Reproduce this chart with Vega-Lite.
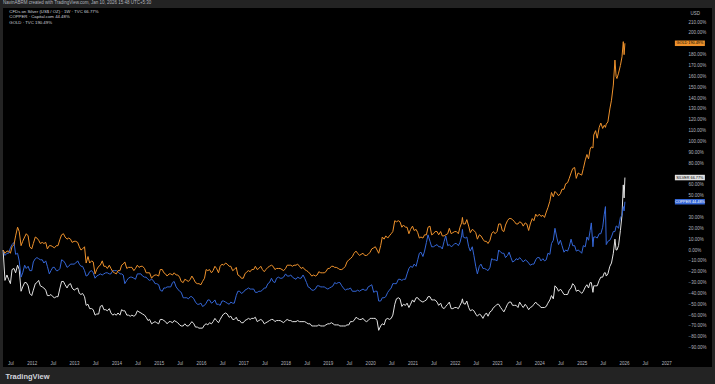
{
  "$schema": "https://vega.github.io/schema/vega-lite/v6.json",
  "width": 709,
  "height": 359,
  "autosize": {"type": "none"},
  "padding": {"left": 3, "right": 3, "top": 8, "bottom": 17},
  "background": "#232323",
  "config": {"view": {"stroke": null, "fill": "#000000"}, "font": "Liberation Sans"},
  "title": {"text": "NavinABRM created with TradingView.com, Jan 10, 2026 15:48 UTC+5:30", "anchor": "start", "frame": "group", "fontSize": 4.5, "fontWeight": "normal", "color": "#b2b5be", "baseline": "bottom", "offset": -1.5},
  "datasets": {
    "prices": [
      {"d":"2011-04-29","s":0,"c":0,"g":0},
      {"d":"2011-05-15","s":-28,"c":-5,"g":-3},
      {"d":"2011-06-01","s":-23,"c":-3,"g":-1},
      {"d":"2011-06-15","s":-27,"c":-3,"g":-1},
      {"d":"2011-07-01","s":-31,"c":2,"g":-3},
      {"d":"2011-07-15","s":-18,"c":5,"g":3},
      {"d":"2011-08-01","s":-17,"c":7,"g":5},
      {"d":"2011-08-15","s":-21,"c":-4,"g":13},
      {"d":"2011-09-01","s":-14,"c":-3,"g":21},
      {"d":"2011-09-15","s":-18,"c":-10,"g":17},
      {"d":"2011-10-01","s":-38,"c":-25,"g":4},
      {"d":"2011-10-15","s":-34,"c":-21,"g":8},
      {"d":"2011-11-01","s":-30,"c":-14,"g":12},
      {"d":"2011-11-15","s":-30,"c":-17,"g":15},
      {"d":"2011-12-01","s":-33,"c":-15,"g":13},
      {"d":"2011-12-15","s":-40,"c":-19,"g":3},
      {"d":"2012-01-01","s":-42,"c":-19,"g":1},
      {"d":"2012-01-15","s":-37,"c":-11,"g":6},
      {"d":"2012-02-01","s":-31,"c":-8,"g":12},
      {"d":"2012-02-15","s":-30,"c":-7,"g":11},
      {"d":"2012-03-01","s":-28,"c":-8,"g":9},
      {"d":"2012-03-15","s":-33,"c":-9,"g":6},
      {"d":"2012-04-01","s":-34,"c":-9,"g":7},
      {"d":"2012-04-15","s":-35,"c":-12,"g":6},
      {"d":"2012-05-01","s":-37,"c":-10,"g":7},
      {"d":"2012-05-15","s":-42,"c":-15,"g":1},
      {"d":"2012-06-01","s":-42,"c":-22,"g":4},
      {"d":"2012-06-15","s":-41,"c":-19,"g":4},
      {"d":"2012-07-01","s":-43,"c":-16,"g":3},
      {"d":"2012-07-15","s":-44,"c":-16,"g":2},
      {"d":"2012-08-01","s":-43,"c":-19,"g":4},
      {"d":"2012-08-15","s":-43,"c":-19,"g":4},
      {"d":"2012-09-01","s":-35,"c":-17,"g":10},
      {"d":"2012-09-15","s":-29,"c":-9,"g":14},
      {"d":"2012-10-01","s":-29,"c":-10,"g":15},
      {"d":"2012-10-15","s":-32,"c":-12,"g":12},
      {"d":"2012-11-01","s":-35,"c":-16,"g":10},
      {"d":"2012-11-15","s":-32,"c":-15,"g":11},
      {"d":"2012-12-01","s":-31,"c":-13,"g":10},
      {"d":"2012-12-15","s":-35,"c":-13,"g":7},
      {"d":"2013-01-01","s":-37,"c":-13,"g":8},
      {"d":"2013-01-15","s":-36,"c":-12,"g":8},
      {"d":"2013-02-01","s":-35,"c":-10,"g":7},
      {"d":"2013-02-15","s":-40,"c":-13,"g":3},
      {"d":"2013-03-01","s":-41,"c":-15,"g":0},
      {"d":"2013-03-15","s":-40,"c":-15,"g":1},
      {"d":"2013-04-01","s":-43,"c":-19,"g":3},
      {"d":"2013-04-15","s":-51,"c":-24,"g":-12},
      {"d":"2013-05-01","s":-50,"c":-23,"g":-6},
      {"d":"2013-05-15","s":-54,"c":-20,"g":-12},
      {"d":"2013-06-01","s":-54,"c":-19,"g":-10},
      {"d":"2013-06-15","s":-55,"c":-21,"g":-11},
      {"d":"2013-07-01","s":-60,"c":-26,"g":-22},
      {"d":"2013-07-15","s":-59,"c":-24,"g":-18},
      {"d":"2013-08-01","s":-59,"c":-23,"g":-15},
      {"d":"2013-08-15","s":-52,"c":-22,"g":-14},
      {"d":"2013-09-01","s":-51,"c":-23,"g":-10},
      {"d":"2013-09-15","s":-55,"c":-22,"g":-15},
      {"d":"2013-10-01","s":-55,"c":-21,"g":-15},
      {"d":"2013-10-15","s":-56,"c":-21,"g":-17},
      {"d":"2013-11-01","s":-54,"c":-22,"g":-14},
      {"d":"2013-11-15","s":-58,"c":-22,"g":-17},
      {"d":"2013-12-01","s":-60,"c":-19,"g":-20},
      {"d":"2013-12-15","s":-59,"c":-19,"g":-21},
      {"d":"2014-01-01","s":-60,"c":-19,"g":-22},
      {"d":"2014-01-15","s":-58,"c":-20,"g":-19},
      {"d":"2014-02-01","s":-60,"c":-22,"g":-19},
      {"d":"2014-02-15","s":-55,"c":-22,"g":-14},
      {"d":"2014-03-01","s":-56,"c":-23,"g":-13},
      {"d":"2014-03-15","s":-56,"c":-31,"g":-11},
      {"d":"2014-04-01","s":-60,"c":-28,"g":-17},
      {"d":"2014-04-15","s":-60,"c":-26,"g":-16},
      {"d":"2014-05-01","s":-61,"c":-25,"g":-16},
      {"d":"2014-05-15","s":-60,"c":-25,"g":-16},
      {"d":"2014-06-01","s":-61,"c":-26,"g":-19},
      {"d":"2014-06-15","s":-60,"c":-27,"g":-17},
      {"d":"2014-07-01","s":-56,"c":-22,"g":-14},
      {"d":"2014-07-15","s":-57,"c":-22,"g":-16},
      {"d":"2014-08-01","s":-58,"c":-22,"g":-15},
      {"d":"2014-08-15","s":-59,"c":-24,"g":-15},
      {"d":"2014-09-01","s":-60,"c":-25,"g":-17},
      {"d":"2014-09-15","s":-62,"c":-25,"g":-21},
      {"d":"2014-10-01","s":-65,"c":-27,"g":-21},
      {"d":"2014-10-15","s":-64,"c":-28,"g":-21},
      {"d":"2014-11-01","s":-68,"c":-27,"g":-26},
      {"d":"2014-11-15","s":-67,"c":-28,"g":-24},
      {"d":"2014-12-01","s":-66,"c":-31,"g":-23},
      {"d":"2014-12-15","s":-67,"c":-31,"g":-23},
      {"d":"2015-01-01","s":-68,"c":-32,"g":-24},
      {"d":"2015-01-15","s":-64,"c":-37,"g":-18},
      {"d":"2015-02-01","s":-64,"c":-38,"g":-18},
      {"d":"2015-02-15","s":-65,"c":-35,"g":-21},
      {"d":"2015-03-01","s":-66,"c":-35,"g":-22},
      {"d":"2015-03-15","s":-68,"c":-34,"g":-24},
      {"d":"2015-04-01","s":-66,"c":-34,"g":-22},
      {"d":"2015-04-15","s":-66,"c":-34,"g":-22},
      {"d":"2015-05-01","s":-67,"c":-30,"g":-23},
      {"d":"2015-05-15","s":-65,"c":-29,"g":-21},
      {"d":"2015-06-01","s":-66,"c":-34,"g":-23},
      {"d":"2015-06-15","s":-67,"c":-36,"g":-23},
      {"d":"2015-07-01","s":-69,"c":-38,"g":-25},
      {"d":"2015-07-15","s":-70,"c":-39,"g":-29},
      {"d":"2015-08-01","s":-70,"c":-44,"g":-30},
      {"d":"2015-08-15","s":-68,"c":-44,"g":-27},
      {"d":"2015-09-01","s":-70,"c":-44,"g":-28},
      {"d":"2015-09-15","s":-70,"c":-45,"g":-29},
      {"d":"2015-10-01","s":-68,"c":-43,"g":-27},
      {"d":"2015-10-15","s":-66,"c":-43,"g":-24},
      {"d":"2015-11-01","s":-68,"c":-45,"g":-27},
      {"d":"2015-11-15","s":-71,"c":-48,"g":-30},
      {"d":"2015-12-01","s":-71,"c":-50,"g":-31},
      {"d":"2015-12-15","s":-72,"c":-50,"g":-31},
      {"d":"2016-01-01","s":-72,"c":-49,"g":-32},
      {"d":"2016-01-15","s":-72,"c":-52,"g":-29},
      {"d":"2016-02-01","s":-69,"c":-51,"g":-26},
      {"d":"2016-02-15","s":-68,"c":-49,"g":-18},
      {"d":"2016-03-01","s":-69,"c":-46,"g":-19},
      {"d":"2016-03-15","s":-67,"c":-46,"g":-18},
      {"d":"2016-04-01","s":-68,"c":-49,"g":-21},
      {"d":"2016-04-15","s":-66,"c":-48,"g":-19},
      {"d":"2016-05-01","s":-63,"c":-46,"g":-15},
      {"d":"2016-05-15","s":-65,"c":-50,"g":-17},
      {"d":"2016-06-01","s":-67,"c":-50,"g":-21},
      {"d":"2016-06-15","s":-64,"c":-51,"g":-15},
      {"d":"2016-07-01","s":-61,"c":-47,"g":-13},
      {"d":"2016-07-15","s":-59,"c":-47,"g":-14},
      {"d":"2016-08-01","s":-58,"c":-48,"g":-12},
      {"d":"2016-08-15","s":-59,"c":-49,"g":-13},
      {"d":"2016-09-01","s":-62,"c":-50,"g":-15},
      {"d":"2016-09-15","s":-61,"c":-48,"g":-15},
      {"d":"2016-10-01","s":-64,"c":-49,"g":-19},
      {"d":"2016-10-15","s":-64,"c":-49,"g":-18},
      {"d":"2016-11-01","s":-62,"c":-42,"g":-16},
      {"d":"2016-11-15","s":-65,"c":-38,"g":-23},
      {"d":"2016-12-01","s":-65,"c":-38,"g":-24},
      {"d":"2016-12-15","s":-67,"c":-40,"g":-26},
      {"d":"2017-01-01","s":-67,"c":-39,"g":-26},
      {"d":"2017-01-15","s":-65,"c":-37,"g":-22},
      {"d":"2017-02-01","s":-64,"c":-36,"g":-20},
      {"d":"2017-02-15","s":-63,"c":-35,"g":-19},
      {"d":"2017-03-01","s":-64,"c":-36,"g":-20},
      {"d":"2017-03-15","s":-63,"c":-36,"g":-18},
      {"d":"2017-04-01","s":-63,"c":-36,"g":-18},
      {"d":"2017-04-15","s":-62,"c":-39,"g":-15},
      {"d":"2017-05-01","s":-66,"c":-39,"g":-18},
      {"d":"2017-05-15","s":-65,"c":-38,"g":-17},
      {"d":"2017-06-01","s":-64,"c":-38,"g":-15},
      {"d":"2017-06-15","s":-65,"c":-37,"g":-18},
      {"d":"2017-07-01","s":-68,"c":-35,"g":-20},
      {"d":"2017-07-15","s":-67,"c":-35,"g":-18},
      {"d":"2017-08-01","s":-66,"c":-31,"g":-16},
      {"d":"2017-08-15","s":-65,"c":-30,"g":-15},
      {"d":"2017-09-01","s":-64,"c":-26,"g":-14},
      {"d":"2017-09-15","s":-64,"c":-29,"g":-15},
      {"d":"2017-10-01","s":-66,"c":-30,"g":-18},
      {"d":"2017-10-15","s":-65,"c":-26,"g":-17},
      {"d":"2017-11-01","s":-65,"c":-25,"g":-17},
      {"d":"2017-11-15","s":-65,"c":-26,"g":-17},
      {"d":"2017-12-01","s":-66,"c":-26,"g":-18},
      {"d":"2017-12-15","s":-67,"c":-25,"g":-19},
      {"d":"2018-01-01","s":-65,"c":-22,"g":-17},
      {"d":"2018-01-15","s":-64,"c":-24,"g":-14},
      {"d":"2018-02-01","s":-65,"c":-24,"g":-14},
      {"d":"2018-02-15","s":-65,"c":-23,"g":-14},
      {"d":"2018-03-01","s":-66,"c":-25,"g":-15},
      {"d":"2018-03-15","s":-66,"c":-26,"g":-14},
      {"d":"2018-04-01","s":-66,"c":-27,"g":-14},
      {"d":"2018-04-15","s":-65,"c":-25,"g":-13},
      {"d":"2018-05-01","s":-66,"c":-26,"g":-15},
      {"d":"2018-05-15","s":-66,"c":-26,"g":-17},
      {"d":"2018-06-01","s":-66,"c":-23,"g":-16},
      {"d":"2018-06-15","s":-66,"c":-26,"g":-18},
      {"d":"2018-07-01","s":-67,"c":-30,"g":-19},
      {"d":"2018-07-15","s":-68,"c":-34,"g":-20},
      {"d":"2018-08-01","s":-68,"c":-35,"g":-22},
      {"d":"2018-08-15","s":-70,"c":-37,"g":-24},
      {"d":"2018-09-01","s":-70,"c":-37,"g":-23},
      {"d":"2018-09-15","s":-70,"c":-36,"g":-24},
      {"d":"2018-10-01","s":-70,"c":-33,"g":-23},
      {"d":"2018-10-15","s":-69,"c":-33,"g":-20},
      {"d":"2018-11-01","s":-70,"c":-34,"g":-21},
      {"d":"2018-11-15","s":-70,"c":-34,"g":-21},
      {"d":"2018-12-01","s":-70,"c":-34,"g":-21},
      {"d":"2018-12-15","s":-69,"c":-35,"g":-20},
      {"d":"2019-01-01","s":-68,"c":-36,"g":-17},
      {"d":"2019-01-15","s":-68,"c":-35,"g":-17},
      {"d":"2019-02-01","s":-67,"c":-34,"g":-15},
      {"d":"2019-02-15","s":-68,"c":-33,"g":-15},
      {"d":"2019-03-01","s":-69,"c":-30,"g":-16},
      {"d":"2019-03-15","s":-69,"c":-31,"g":-16},
      {"d":"2019-04-01","s":-69,"c":-30,"g":-17},
      {"d":"2019-04-15","s":-70,"c":-30,"g":-18},
      {"d":"2019-05-01","s":-70,"c":-33,"g":-18},
      {"d":"2019-05-15","s":-70,"c":-35,"g":-17},
      {"d":"2019-06-01","s":-70,"c":-37,"g":-15},
      {"d":"2019-06-15","s":-69,"c":-36,"g":-11},
      {"d":"2019-07-01","s":-69,"c":-36,"g":-9},
      {"d":"2019-07-15","s":-66,"c":-35,"g":-8},
      {"d":"2019-08-01","s":-66,"c":-38,"g":-6},
      {"d":"2019-08-15","s":-65,"c":-38,"g":-3},
      {"d":"2019-09-01","s":-62,"c":-38,"g":-1},
      {"d":"2019-09-15","s":-63,"c":-37,"g":-3},
      {"d":"2019-10-01","s":-64,"c":-38,"g":-5},
      {"d":"2019-10-15","s":-64,"c":-37,"g":-4},
      {"d":"2019-11-01","s":-63,"c":-36,"g":-3},
      {"d":"2019-11-15","s":-65,"c":-37,"g":-5},
      {"d":"2019-12-01","s":-66,"c":-37,"g":-5},
      {"d":"2019-12-15","s":-65,"c":-34,"g":-4},
      {"d":"2020-01-01","s":-63,"c":-33,"g":-2},
      {"d":"2020-01-15","s":-63,"c":-32,"g":1},
      {"d":"2020-02-01","s":-63,"c":-39,"g":2},
      {"d":"2020-02-15","s":-63,"c":-38,"g":3},
      {"d":"2020-03-01","s":-65,"c":-38,"g":0},
      {"d":"2020-03-15","s":-74,"c":-47,"g":-3},
      {"d":"2020-04-01","s":-70,"c":-47,"g":4},
      {"d":"2020-04-15","s":-68,"c":-44,"g":12},
      {"d":"2020-05-01","s":-69,"c":-44,"g":10},
      {"d":"2020-05-15","s":-64,"c":-43,"g":13},
      {"d":"2020-06-01","s":-63,"c":-39,"g":11},
      {"d":"2020-06-15","s":-64,"c":-37,"g":13},
      {"d":"2020-07-01","s":-63,"c":-35,"g":15},
      {"d":"2020-07-15","s":-60,"c":-31,"g":17},
      {"d":"2020-08-01","s":-50,"c":-31,"g":27},
      {"d":"2020-08-15","s":-45,"c":-31,"g":26},
      {"d":"2020-09-01","s":-44,"c":-27,"g":27},
      {"d":"2020-09-15","s":-45,"c":-27,"g":26},
      {"d":"2020-10-01","s":-52,"c":-28,"g":21},
      {"d":"2020-10-15","s":-50,"c":-27,"g":23},
      {"d":"2020-11-01","s":-51,"c":-27,"g":21},
      {"d":"2020-11-15","s":-49,"c":-22,"g":21},
      {"d":"2020-12-01","s":-53,"c":-17,"g":15},
      {"d":"2020-12-15","s":-50,"c":-15,"g":19},
      {"d":"2021-01-01","s":-46,"c":-16,"g":22},
      {"d":"2021-01-15","s":-48,"c":-13,"g":18},
      {"d":"2021-02-01","s":-44,"c":-15,"g":19},
      {"d":"2021-02-15","s":-44,"c":-9,"g":16},
      {"d":"2021-03-01","s":-46,"c":-3,"g":11},
      {"d":"2021-03-15","s":-47,"c":-2,"g":12},
      {"d":"2021-04-01","s":-48,"c":-6,"g":11},
      {"d":"2021-04-15","s":-47,"c":-1,"g":14},
      {"d":"2021-05-01","s":-46,"c":7,"g":14},
      {"d":"2021-05-15","s":-43,"c":14,"g":21},
      {"d":"2021-06-01","s":-43,"c":8,"g":22},
      {"d":"2021-06-15","s":-46,"c":3,"g":14},
      {"d":"2021-07-01","s":-46,"c":3,"g":15},
      {"d":"2021-07-15","s":-46,"c":4,"g":17},
      {"d":"2021-08-01","s":-48,"c":5,"g":17},
      {"d":"2021-08-15","s":-51,"c":3,"g":14},
      {"d":"2021-09-01","s":-49,"c":3,"g":17},
      {"d":"2021-09-15","s":-53,"c":1,"g":13},
      {"d":"2021-10-01","s":-54,"c":8,"g":13},
      {"d":"2021-10-15","s":-52,"c":13,"g":14},
      {"d":"2021-11-01","s":-50,"c":4,"g":15},
      {"d":"2021-11-15","s":-48,"c":5,"g":20},
      {"d":"2021-12-01","s":-54,"c":3,"g":15},
      {"d":"2021-12-15","s":-54,"c":4,"g":16},
      {"d":"2022-01-01","s":-53,"c":6,"g":17},
      {"d":"2022-01-15","s":-53,"c":6,"g":17},
      {"d":"2022-02-01","s":-54,"c":4,"g":15},
      {"d":"2022-02-15","s":-51,"c":7,"g":21},
      {"d":"2022-03-01","s":-48,"c":13,"g":25},
      {"d":"2022-03-08","s":-45,"c":19,"g":30},
      {"d":"2022-03-15","s":-49,"c":12,"g":24},
      {"d":"2022-04-01","s":-50,"c":11,"g":24},
      {"d":"2022-04-15","s":-47,"c":12,"g":28},
      {"d":"2022-05-01","s":-53,"c":3,"g":22},
      {"d":"2022-05-15","s":-56,"c":-1,"g":16},
      {"d":"2022-06-01","s":-55,"c":3,"g":19},
      {"d":"2022-06-15","s":-56,"c":-5,"g":18},
      {"d":"2022-07-01","s":-59,"c":-15,"g":16},
      {"d":"2022-07-15","s":-61,"c":-22,"g":10},
      {"d":"2022-08-01","s":-59,"c":-15,"g":14},
      {"d":"2022-08-15","s":-60,"c":-13,"g":13},
      {"d":"2022-09-01","s":-63,"c":-17,"g":10},
      {"d":"2022-09-15","s":-60,"c":-17,"g":8},
      {"d":"2022-10-01","s":-58,"c":-18,"g":8},
      {"d":"2022-10-15","s":-61,"c":-19,"g":6},
      {"d":"2022-11-01","s":-57,"c":-16,"g":9},
      {"d":"2022-11-15","s":-56,"c":-8,"g":15},
      {"d":"2022-12-01","s":-53,"c":-9,"g":17},
      {"d":"2022-12-15","s":-52,"c":-9,"g":15},
      {"d":"2023-01-01","s":-50,"c":-10,"g":17},
      {"d":"2023-01-15","s":-50,"c":0,"g":24},
      {"d":"2023-02-01","s":-53,"c":-2,"g":24},
      {"d":"2023-02-15","s":-55,"c":-3,"g":18},
      {"d":"2023-03-01","s":-57,"c":-3,"g":17},
      {"d":"2023-03-15","s":-54,"c":-7,"g":23},
      {"d":"2023-04-01","s":-50,"c":-5,"g":27},
      {"d":"2023-04-15","s":-48,"c":-2,"g":29},
      {"d":"2023-05-01","s":-48,"c":-7,"g":29},
      {"d":"2023-05-15","s":-51,"c":-11,"g":28},
      {"d":"2023-06-01","s":-51,"c":-10,"g":26},
      {"d":"2023-06-15","s":-51,"c":-8,"g":24},
      {"d":"2023-07-01","s":-53,"c":-9,"g":24},
      {"d":"2023-07-15","s":-48,"c":-7,"g":26},
      {"d":"2023-08-01","s":-51,"c":-9,"g":25},
      {"d":"2023-08-15","s":-53,"c":-11,"g":22},
      {"d":"2023-09-01","s":-50,"c":-9,"g":25},
      {"d":"2023-09-15","s":-52,"c":-10,"g":24},
      {"d":"2023-10-01","s":-55,"c":-12,"g":18},
      {"d":"2023-10-15","s":-53,"c":-14,"g":24},
      {"d":"2023-11-01","s":-52,"c":-13,"g":29},
      {"d":"2023-11-15","s":-50,"c":-13,"g":27},
      {"d":"2023-12-01","s":-48,"c":-9,"g":33},
      {"d":"2023-12-15","s":-50,"c":-7,"g":31},
      {"d":"2024-01-01","s":-51,"c":-7,"g":33},
      {"d":"2024-01-15","s":-53,"c":-10,"g":31},
      {"d":"2024-02-01","s":-53,"c":-8,"g":32},
      {"d":"2024-02-15","s":-53,"c":-10,"g":30},
      {"d":"2024-03-01","s":-52,"c":-9,"g":35},
      {"d":"2024-03-15","s":-49,"c":-3,"g":39},
      {"d":"2024-04-01","s":-46,"c":-4,"g":45},
      {"d":"2024-04-15","s":-42,"c":6,"g":53},
      {"d":"2024-05-01","s":-45,"c":9,"g":49},
      {"d":"2024-05-15","s":-33,"c":20,"g":54},
      {"d":"2024-06-01","s":-35,"c":11,"g":52},
      {"d":"2024-06-15","s":-38,"c":5,"g":50},
      {"d":"2024-07-01","s":-36,"c":9,"g":52},
      {"d":"2024-07-15","s":-38,"c":4,"g":56},
      {"d":"2024-08-01","s":-41,"c":-2,"g":56},
      {"d":"2024-08-15","s":-41,"c":0,"g":61},
      {"d":"2024-09-01","s":-41,"c":-1,"g":62},
      {"d":"2024-09-15","s":-37,"c":3,"g":66},
      {"d":"2024-10-01","s":-35,"c":10,"g":71},
      {"d":"2024-10-15","s":-31,"c":4,"g":75},
      {"d":"2024-11-01","s":-33,"c":4,"g":76},
      {"d":"2024-11-15","s":-38,"c":-1,"g":66},
      {"d":"2024-12-01","s":-37,"c":0,"g":71},
      {"d":"2024-12-15","s":-38,"c":-1,"g":70},
      {"d":"2025-01-01","s":-40,"c":-3,"g":69},
      {"d":"2025-01-15","s":-38,"c":4,"g":75},
      {"d":"2025-02-01","s":-34,"c":3,"g":83},
      {"d":"2025-02-15","s":-32,"c":12,"g":88},
      {"d":"2025-03-01","s":-35,"c":9,"g":84},
      {"d":"2025-03-15","s":-30,"c":18,"g":93},
      {"d":"2025-03-25","s":-30,"c":25,"g":95},
      {"d":"2025-04-08","s":-39,"c":3,"g":94},
      {"d":"2025-04-15","s":-33,"c":12,"g":106},
      {"d":"2025-05-01","s":-33,"c":12,"g":110},
      {"d":"2025-05-15","s":-33,"c":11,"g":103},
      {"d":"2025-06-01","s":-28,"c":15,"g":113},
      {"d":"2025-06-15","s":-25,"c":15,"g":117},
      {"d":"2025-07-01","s":-25,"c":21,"g":112},
      {"d":"2025-07-15","s":-21,"c":33,"g":115},
      {"d":"2025-07-25","s":-21,"c":40,"g":113},
      {"d":"2025-08-01","s":-24,"c":5,"g":116},
      {"d":"2025-08-15","s":-22,"c":8,"g":118},
      {"d":"2025-09-01","s":-15,"c":9,"g":130},
      {"d":"2025-09-15","s":-12,"c":12,"g":138},
      {"d":"2025-10-01","s":-3,"c":17,"g":152},
      {"d":"2025-10-15","s":10,"c":17,"g":175},
      {"d":"2025-10-25","s":0,"c":22,"g":160},
      {"d":"2025-11-01","s":0,"c":22,"g":158},
      {"d":"2025-11-15","s":4,"c":20,"g":163},
      {"d":"2025-12-01","s":18,"c":30,"g":170},
      {"d":"2025-12-15","s":32,"c":32,"g":178},
      {"d":"2025-12-26","s":60,"c":40,"g":192},
      {"d":"2026-01-02","s":48,"c":36,"g":180},
      {"d":"2026-01-09","s":66.77,"c":44.48,"g":190.49}
    ],
    "tags": [
      {"k":"s","v":66.77,"t":"SILVER  66.77%"},
      {"k":"c","v":44.48,"t":"COPPER  44.48%"},
      {"k":"g","v":190.49,"t":"GOLD  190.49%"}
    ]
  },
  "layer": [
    {
      "mark": {"type": "rule", "color": "#5e5e5e", "strokeWidth": 0.9},
      "encoding": {"y": {"datum": 0, "type": "quantitative"}}
    },
    {
      "mark": {"type": "rule", "color": "#5a5a5a", "strokeWidth": 0.8},
      "encoding": {
        "y": {"datum": 66.77, "type": "quantitative"},
        "x": {"datum": {"year": 2011, "month": 4, "date": 28}, "type": "temporal"},
        "x2": {"datum": {"year": 2027, "month": 3, "date": 15}}
      }
    },
    {
      "data": {"name": "prices"},
      "transform": [{"fold": ["s", "c", "g"], "as": ["k", "v"]}],
      "mark": {"type": "line", "strokeWidth": 1, "interpolate": "linear"},
      "encoding": {
        "x": {
          "field": "d", "type": "temporal",
          "scale": {"domain": [{"year": 2011, "month": 4, "date": 28}, {"year": 2028, "month": 1, "date": 31}]},
          "axis": {
            "orient": "bottom", "offset": -8, "grid": false, "ticks": false, "domain": false, "tickCount": 200,
            "labelFontSize": 4.5, "labelColor": "#b2b5be", "labelPadding": 1, "labelOverlap": false,
            "values": [
              {"year": 2011, "month": 7, "date": 1}, {"year": 2012, "month": 1, "date": 1},
              {"year": 2012, "month": 7, "date": 1}, {"year": 2013, "month": 1, "date": 1},
              {"year": 2013, "month": 7, "date": 1}, {"year": 2014, "month": 1, "date": 1},
              {"year": 2014, "month": 7, "date": 1}, {"year": 2015, "month": 1, "date": 1},
              {"year": 2015, "month": 7, "date": 1}, {"year": 2016, "month": 1, "date": 1},
              {"year": 2016, "month": 7, "date": 1}, {"year": 2017, "month": 1, "date": 1},
              {"year": 2017, "month": 7, "date": 1}, {"year": 2018, "month": 1, "date": 1},
              {"year": 2018, "month": 7, "date": 1}, {"year": 2019, "month": 1, "date": 1},
              {"year": 2019, "month": 7, "date": 1}, {"year": 2020, "month": 1, "date": 1},
              {"year": 2020, "month": 7, "date": 1}, {"year": 2021, "month": 1, "date": 1},
              {"year": 2021, "month": 7, "date": 1}, {"year": 2022, "month": 1, "date": 1},
              {"year": 2022, "month": 7, "date": 1}, {"year": 2023, "month": 1, "date": 1},
              {"year": 2023, "month": 7, "date": 1}, {"year": 2024, "month": 1, "date": 1},
              {"year": 2024, "month": 7, "date": 1}, {"year": 2025, "month": 1, "date": 1},
              {"year": 2025, "month": 7, "date": 1}, {"year": 2026, "month": 1, "date": 1},
              {"year": 2026, "month": 7, "date": 1}, {"year": 2027, "month": 1, "date": 1}
            ],
            "labelExpr": "month(datum.value) == 0 ? timeFormat(datum.value, '%Y') : 'Jul'",
            "title": "TradingView", "titleFontSize": 7.5, "titleFontWeight": "bold", "titleColor": "#d1d4dc",
            "titleAnchor": "start", "titleAlign": "left", "titleBaseline": "middle", "titleX": 2, "titleY": 17
          }
        },
        "y": {
          "field": "v", "type": "quantitative",
          "scale": {"domain": [-107.8, 223.0], "nice": false, "zero": false},
          "axis": {
            "orient": "right", "offset": -26, "grid": false, "ticks": false, "domain": false, "tickCount": 200,
            "labelFontSize": 4.5, "labelColor": "#b2b5be", "labelPadding": 2, "labelAlign": "left", "labelOverlap": false,
            "values": [-90, -80, -70, -60, -50, -40, -30, -20, -10, 0, 10, 20, 30, 50, 60, 80, 90, 100, 110, 120, 130, 140, 150, 160, 170, 180, 200, 210],
            "labelExpr": "(datum.value < 0 ? '−' + format(-datum.value, '.2f') : format(datum.value, '.2f')) + '%'",
            "title": "USD", "titleAngle": 0, "titleFontSize": 4.5, "titleFontWeight": "normal", "titleColor": "#b2b5be",
            "titleAlign": "left", "titleBaseline": "middle", "titleX": 4, "titleY": 5
          }
        },
        "color": {
          "field": "k", "type": "nominal",
          "scale": {"domain": ["s", "c", "g"], "range": ["#e3e3e3", "#3466d6", "#ef922c"]},
          "legend": {
            "orient": "top-left", "offset": 2, "padding": 0, "title": null,
            "labelExpr": "datum.label == 's' ? 'CFDs on Silver (US$ / OZ) · 1W · TVC    66.77%' : datum.label == 'c' ? 'COPPER · Capital.com    44.48%' : 'GOLD · TVC    190.49%'",
            "labelFontSize": 4.3, "labelColor": "#d1d4dc", "labelOffset": 0,
            "symbolSize": 0, "symbolStrokeWidth": 0, "symbolOpacity": 0, "rowPadding": 0.3
          }
        }
      }
    },
    {
      "data": {"name": "tags"},
      "mark": {"type": "tick", "orient": "horizontal", "size": 30, "thickness": 5.5, "opacity": 1},
      "encoding": {
        "x": {"datum": {"year": 2027, "month": 7, "date": 24}, "type": "temporal"},
        "y": {"field": "v", "type": "quantitative"},
        "color": {"field": "k", "type": "nominal"}
      }
    },
    {
      "data": {"name": "tags"},
      "mark": {"type": "text", "fontSize": 3.8, "align": "center", "baseline": "middle"},
      "encoding": {
        "x": {"datum": {"year": 2027, "month": 7, "date": 24}, "type": "temporal"},
        "y": {"field": "v", "type": "quantitative"},
        "text": {"field": "t"},
        "fill": {"field": "k", "type": "nominal", "scale": {"domain": ["s", "c", "g"], "range": ["#000000", "#ffffff", "#000000"]}, "legend": null}
      }
    },
    {
      "mark": {"type": "point", "shape": "circle", "size": 20, "filled": false, "stroke": "#a033b0", "strokeWidth": 0.8},
      "encoding": {
        "x": {"datum": {"year": 2026, "month": 1, "date": 9}, "type": "temporal"},
        "y": {"datum": -89.7, "type": "quantitative"}
      }
    },
    {
      "mark": {"type": "point", "shape": "square", "size": 22, "filled": true, "fill": "#e23a5f", "opacity": 1},
      "encoding": {
        "x": {"datum": {"year": 2026, "month": 1, "date": 20}, "type": "temporal"},
        "y": {"datum": -96.8, "type": "quantitative"}
      }
    }
  ]
}
